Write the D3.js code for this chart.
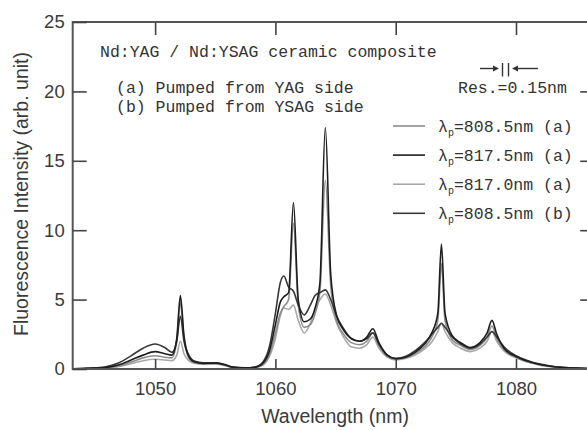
<!DOCTYPE html>
<html>
<head>
<meta charset="utf-8">
<script src="https://cdn.jsdelivr.net/npm/d3@7"></script>
<style>
  body { margin: 0; background: #fff; }
  svg { display: block; }
</style>
</head>
<body>
<div id="graf"></div>
<script>
// Data
const wavelengths = [1043.2, 1044, 1045, 1046, 1047, 1048, 1049, 1050, 1050.8, 1051.4,
  1051.8, 1052.1, 1052.4, 1052.8, 1053.3, 1054, 1055, 1055.8, 1056.5, 1057.5,
  1058.3, 1059, 1059.5, 1060, 1060.4, 1060.7, 1061.1, 1061.5, 1061.9, 1062.4,
  1062.9, 1063.3, 1063.7, 1064.15, 1064.6, 1065.1, 1065.6, 1066.3, 1067, 1067.6,
  1068.1, 1068.6, 1069.3, 1070, 1070.8, 1071.6, 1072.4, 1073, 1073.5, 1073.8,
  1074.1, 1074.7, 1075.4, 1076.2, 1077, 1077.6, 1078, 1078.4, 1079, 1080,
  1081, 1082, 1083, 1084, 1085, 1086.2]

// lambda_p = 808.5 nm (a)
const pump808a = [0.02, 0.03, 0.05, 0.1, 0.22, 0.5, 0.8, 0.95, 0.85, 0.8,
  2.0, 4.8, 2.2, 0.8, 0.45, 0.38, 0.4, 0.28, 0.1, 0.07,
  0.1, 0.35, 1.0, 2.6, 4.0, 4.5, 5.0, 10.5, 4.6, 3.0,
  3.2, 4.0, 5.6, 13.6, 6.0, 3.4, 2.6, 1.9, 1.75, 2.0,
  2.6, 1.7, 0.9, 0.7, 0.8, 1.1, 1.6, 2.3, 3.5, 7.6,
  3.5, 2.1, 1.7, 1.4, 1.7, 2.3, 3.1, 2.2, 1.4, 0.85,
  0.5, 0.3, 0.17, 0.1, 0.06, 0.03]

// lambda_p = 817.5 nm (a)
const pump817_5a = [0.02, 0.03, 0.06, 0.12, 0.3, 0.65, 1.0, 1.25, 1.1, 1.0,
  2.2, 5.3, 2.4, 0.9, 0.5, 0.4, 0.42, 0.3, 0.12, 0.08,
  0.12, 0.45, 1.3, 3.2, 4.8, 5.2, 5.5, 12.0, 5.0, 3.4,
  3.6, 4.4, 6.2, 17.4, 6.8, 3.8, 2.9, 2.2, 2.0, 2.3,
  2.9, 1.9, 1.0, 0.75, 0.85, 1.2, 1.8, 2.6, 4.0, 9.0,
  4.0, 2.4, 1.9, 1.55, 1.9, 2.6, 3.5, 2.5, 1.5, 0.9,
  0.55, 0.32, 0.18, 0.1, 0.06, 0.03]

// lambda_p = 817.0 nm (a)
const pump817_0a = [0.01, 0.02, 0.04, 0.08, 0.18, 0.38, 0.6, 0.7, 0.65, 0.6,
  1.0, 2.0, 1.1, 0.6, 0.4, 0.35, 0.36, 0.25, 0.1, 0.06,
  0.1, 0.3, 0.9, 2.2, 3.8, 4.4, 4.3, 4.6, 3.5, 2.6,
  3.3, 4.3, 5.0, 5.4, 4.6, 3.3, 2.4, 1.6, 1.5, 1.75,
  2.3, 1.5, 0.85, 0.65, 0.75, 1.0, 1.45, 1.95, 2.7, 3.3,
  2.7, 1.9, 1.5, 1.25, 1.5, 2.0, 2.7, 2.0, 1.3, 0.8,
  0.5, 0.28, 0.16, 0.09, 0.05, 0.02]

// lambda_p = 808.5 nm (b)
const pump808b = [0.02, 0.04, 0.08, 0.18, 0.45, 0.95, 1.5, 1.8, 1.55, 1.2,
  2.0, 3.8, 2.0, 1.0, 0.55, 0.45, 0.45, 0.32, 0.14, 0.08,
  0.15, 0.55, 1.6, 4.0, 6.2, 6.7, 5.9, 5.6, 4.6, 3.9,
  4.6, 5.3, 5.5, 5.7, 5.0, 3.8, 3.0, 2.2, 2.0, 2.2,
  2.6, 1.8, 1.0, 0.75, 0.9, 1.3, 1.9, 2.5, 3.0, 3.3,
  3.0, 2.3, 1.8, 1.5, 1.8, 2.3, 2.7, 2.3, 1.6, 0.95,
  0.6, 0.35, 0.2, 0.11, 0.06, 0.03]

const legendLabels = ["=808.5nm (a)", "=817.5nm (a)", "=817.0nm (a)", "=808.5nm (b)"]
const xTicks = [1050, 1060, 1070, 1080]
const yTicks = [0, 5, 10, 15, 20, 25]

const series = [
  { name: legendLabels[0], values: pump808a, color: "#8c8c8c" },
  { name: legendLabels[1], values: pump817_5a, color: "#1e1e1e" },
  { name: legendLabels[2], values: pump817_0a, color: "#a8a8a8" },
  { name: legendLabels[3], values: pump808b, color: "#383838" }
]

const anchoTotal = 587
const altoTotal = 430

const svg = d3.select("#graf")
  .append("svg")
  .attr("width", anchoTotal)
  .attr("height", altoTotal)

// Escaladores
const x = d3.scaleLinear().domain([1043.15, 1086.5]).range([72.7, 594.2])
const y = d3.scaleLinear().domain([0, 25]).range([369, 22])

const line = d3.line()
  .x((d) => x(d[0]))
  .y((d) => y(d[1]))
  .curve(d3.curveMonotoneX)

// curvas (claras primero)
const orden = [2, 0, 3, 1]
svg.append("g")
  .selectAll("path")
  .data(orden.map((i) => series[i]))
  .join("path")
  .attr("d", (s) => line(wavelengths.map((w, i) => [w, s.values[i]])))
  .attr("fill", "none")
  .attr("stroke", (s) => s.color)
  .attr("stroke-width", 1.6)
  .attr("stroke-linejoin", "round")

// marco
svg.append("rect")
  .attr("x", x.range()[0])
  .attr("y", y.range()[1])
  .attr("width", x.range()[1] - x.range()[0])
  .attr("height", y.range()[0] - y.range()[1])
  .attr("fill", "none")
  .attr("stroke", "#555")
  .attr("stroke-width", 2)

// Ejes
const ejeFont = "'Liberation Sans', Arial, sans-serif"

const xAxisGroup = svg.append("g")
  .attr("transform", `translate(0, ${y.range()[0]})`)
  .call(d3.axisBottom(x).tickValues(xTicks).tickSize(-10).tickPadding(13).tickFormat(d3.format("d")))
xAxisGroup.select(".domain").remove()

const yAxisGroup = svg.append("g")
  .attr("transform", `translate(${x.range()[0]}, 0)`)
  .call(d3.axisLeft(y).tickValues(yTicks).tickSize(-14).tickPadding(8))
yAxisGroup.select(".domain").remove()

const topAxis = svg.append("g")
  .attr("transform", `translate(0, ${y.range()[1]})`)
  .call(d3.axisTop(x).tickValues(xTicks).tickSize(-13).tickFormat(""))
topAxis.select(".domain").remove()

const rightAxis = svg.append("g")
  .attr("transform", `translate(${x.range()[1]}, 0)`)
  .call(d3.axisRight(y).tickValues(yTicks.slice(1, -1)).tickSize(-14).tickFormat(""))
rightAxis.select(".domain").remove()

svg.selectAll(".tick line").attr("stroke", "#444").attr("stroke-width", 1.6)
svg.selectAll(".tick text")
  .attr("font-family", ejeFont)
  .attr("font-size", 18.5)
  .attr("fill", "#3a3a3a")

// etiquetas de ejes
svg.append("text")
  .attr("x", 335)
  .attr("y", 423)
  .attr("text-anchor", "middle")
  .attr("font-family", ejeFont)
  .attr("font-size", 19.5)
  .attr("fill", "#3a3a3a")
  .text("Wavelength (nm)")

svg.append("text")
  .attr("transform", "translate(28, 194) rotate(-90)")
  .attr("text-anchor", "middle")
  .attr("font-family", ejeFont)
  .attr("font-size", 19.5)
  .attr("fill", "#3a3a3a")
  .text("Fluorescence Intensity (arb. unit)")

// anotaciones
const mono = "'Liberation Mono', 'DejaVu Sans Mono', monospace"
const notas = [
  { t: "Nd:YAG / Nd:YSAG ceramic composite", x: 100, y: 57 },
  { t: "(a) Pumped from YAG side", x: 116, y: 93 },
  { t: "(b) Pumped from YSAG side", x: 116, y: 112 },
  { t: "Res.=0.15nm", x: 458, y: 93 }
]
svg.append("g")
  .selectAll("text")
  .data(notas)
  .join("text")
  .attr("x", (d) => d.x)
  .attr("y", (d) => d.y)
  .attr("font-family", mono)
  .attr("font-size", 16.5)
  .attr("fill", "#333")
  .text((d) => d.t)

// marca de resolucion  →||←
const res = svg.append("g").attr("stroke", "#333").attr("stroke-width", 1.4).attr("fill", "#333")
res.append("line").attr("x1", 480).attr("x2", 496).attr("y1", 68.5).attr("y2", 68.5)
res.append("path").attr("d", "M499,68.5 L493,65.5 L493,71.5 Z").attr("stroke", "none")
res.append("line").attr("x1", 502.5).attr("x2", 502.5).attr("y1", 63).attr("y2", 76.5)
res.append("line").attr("x1", 508.5).attr("x2", 508.5).attr("y1", 63).attr("y2", 76.5)
res.append("line").attr("x1", 515).attr("x2", 538).attr("y1", 68.5).attr("y2", 68.5)
res.append("path").attr("d", "M512,68.5 L518,65.5 L518,71.5 Z").attr("stroke", "none")

// leyenda
const leyenda = svg.append("g")
  .selectAll("g")
  .data(series)
  .join("g")
  .attr("transform", (d, i) => `translate(0, ${126 + i * 29.1})`)

leyenda.append("line")
  .attr("x1", 393)
  .attr("x2", 425)
  .attr("stroke", (d) => d.color)
  .attr("stroke-width", 1.6)

const lt = leyenda.append("text")
  .attr("x", 438)
  .attr("y", 6)
  .attr("font-family", mono)
  .attr("font-size", 16.5)
  .attr("fill", "#333")
lt.append("tspan").text("λ")
lt.append("tspan").attr("font-size", 10).attr("dy", 4).text("p")
lt.append("tspan").attr("dy", -4).text((d) => d.name)
</script>
</body>
</html>
